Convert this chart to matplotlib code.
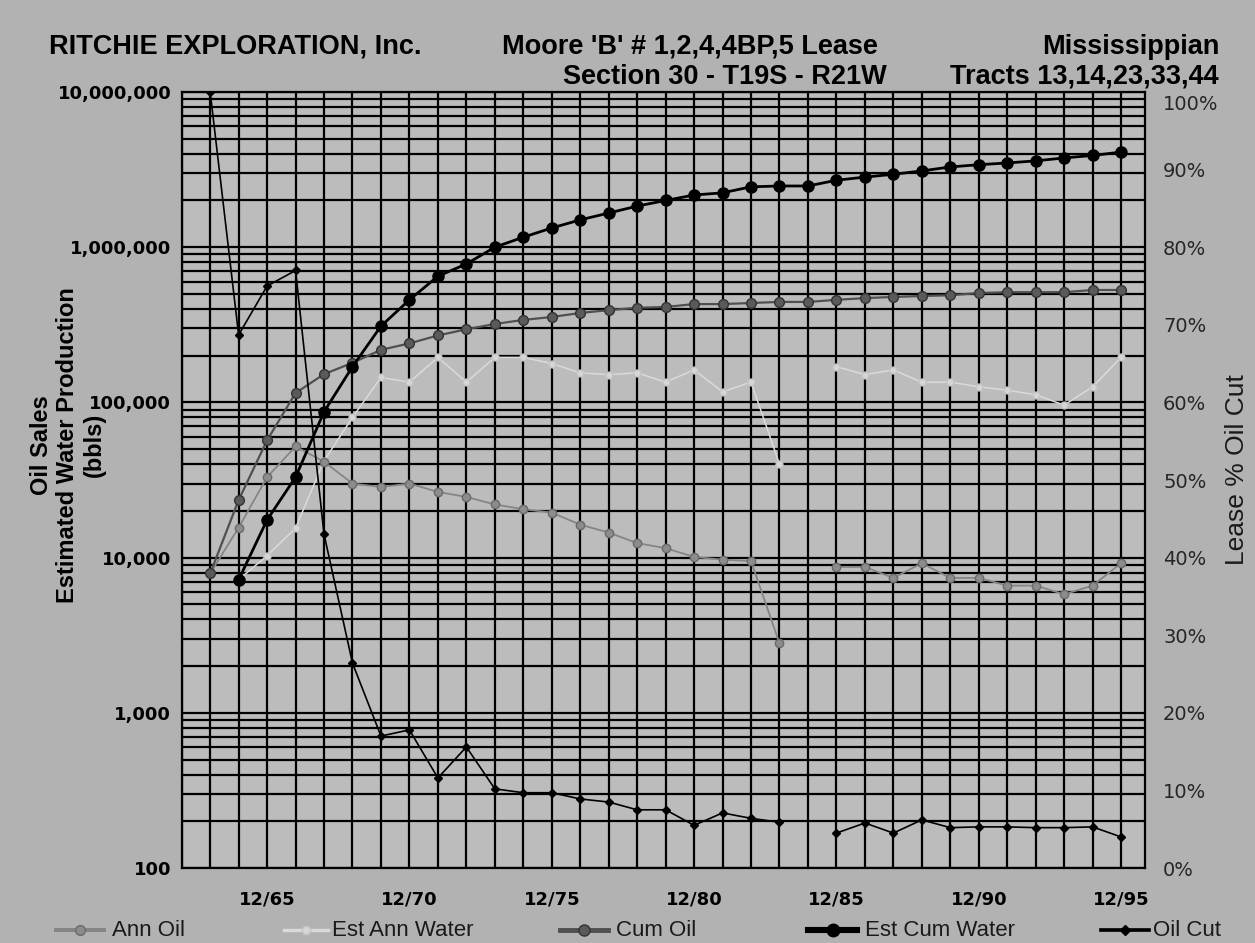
import numpy as np
import matplotlib
matplotlib.use('Agg')
import matplotlib.pyplot as plt
from matplotlib import font_manager
from matplotlib.lines import Line2D
from matplotlib.transforms import ScaledTranslation
from matplotlib.ticker import FixedLocator, NullFormatter

nan = np.nan

# ---------------- data (year-end periods 12/63 .. 12/95) ----------------
periods = ['12/%02d' % y for y in range(63, 96)]

ann_oil = [7900, 15600, 33000, 52000, 41500, 30000, 28500, 30000, 26500, 24600,
           22000, 20500, 19500, 16300, 14500, 12400, 11500, 10100, 9700, 9500,
           2800, nan, 8700, 8700, 7400, 9200, 7400, 7400, 6600, 6600,
           5800, 6600, 9200]

est_ann_water = [nan, 7200, 10300, 15500, 42000, 80000, 145000, 135000, 195000, 135000,
                 195000, 195000, 178000, 155000, 151000, 155000, 135000, 162000, 117000, 135000,
                 40000, nan, 170000, 151000, 162000, 135000, 135000, 126000, 120000, 112000,
                 96000, 126000, 195000]

cum_oil = [7900, 23500, 57000, 115000, 152000, 180000, 218000, 240000, 270000, 296000,
           320000, 340000, 355000, 377000, 393000, 407000, 412000, 430000, 430000, 437000,
           444000, 444000, 458000, 470000, 478000, 485000, 490000, 507000, 513000, 513000,
           513000, 530000, 530000]

est_cum_water = [nan, 7200, 17500, 33000, 87000, 170000, 310000, 458000, 650000, 780000,
                 1000000, 1160000, 1330000, 1500000, 1660000, 1840000, 2000000, 2170000, 2240000, 2450000,
                 2480000, 2480000, 2700000, 2830000, 2950000, 3100000, 3290000, 3400000, 3490000, 3600000,
                 3760000, 3900000, 4100000]

oil_cut = [100, 68.7, 75, 77, 43, 26.4, 17, 17.8, 11.6, 15.6,
           10.2, 9.7, 9.7, 8.9, 8.5, 7.5, 7.5, 5.5, 7.1, 6.4,
           5.9, nan, 4.5, 5.8, 4.5, 6.2, 5.2, 5.3, 5.3, 5.2,
           5.2, 5.3, 4.0]

x_labels = ['12/65', '12/70', '12/75', '12/80', '12/85', '12/90', '12/95']
left_ticks = [100, 1000, 10000, 100000, 1000000, 10000000]
left_labels = ['100', '1,000', '10,000', '100,000', '1,000,000', '10,000,000']
right_ticks = list(range(0, 101, 10))
right_labels = ['%d%%' % v for v in right_ticks]

series_names = ['Ann Oil', 'Est Ann Water', 'Cum Oil', 'Est Cum Water', 'Oil Cut']
ylabel_lines = ['Oil Sales', 'Estimated Water Production', '(bbls)']

# ---------------- fonts ----------------
names = {f.name for f in font_manager.fontManager.ttflist}
HAS_NARROW = 'Liberation Sans Narrow' in names
NARROW = 'Liberation Sans Narrow' if HAS_NARROW else 'Liberation Sans'
TITLE_SIZE = 24 if HAS_NARROW else 19.5
YLAB_SIZE = 20 if HAS_NARROW else 17

W, H = 1255, 943
def fx(px):
    return px / W
def fy(py):
    return 1 - py / H

fig = plt.figure(figsize=(12.55, 9.43), dpi=100, facecolor='#b2b2b2')
ax = fig.add_axes([fx(181.7), fy(868), fx(1145) - fx(181.7), fy(92) - fy(868)])
ax.set_facecolor('#bcbcbc')

x = np.arange(1, len(periods) + 1)

styles = {
    'Ann Oil': dict(color='#858585', lw=1.3, marker='o', ms=6, mfc='#8c8c8c', mec='#6a6a6a'),
    'Est Ann Water': dict(color='#dadada', lw=1.1, marker='o', ms=5, mfc='#d6d6d6', mec='#c4c4c4'),
    'Cum Oil': dict(color='#505050', lw=1.6, marker='o', ms=7, mfc='#5a5a5a', mec='#333333'),
    'Est Cum Water': dict(color='black', lw=2.0, marker='o', ms=8, mfc='black', mec='black'),
    'Oil Cut': dict(color='black', lw=1.2, marker='D', ms=4.5, mfc='black', mec='black'),
}

ax.plot(x, ann_oil, zorder=4, **styles['Ann Oil'])
ax.plot(x, est_ann_water, zorder=3, **styles['Est Ann Water'])
ax.plot(x, cum_oil, zorder=5, **styles['Cum Oil'])
ax.plot(x, est_cum_water, zorder=6, **styles['Est Cum Water'])

ax.set_yscale('log')
ax.set_ylim(100, 1e7)
ax.set_xlim(0, 33.84)

# grid
label_pos = [periods.index(l) + 1 for l in x_labels]
ax.xaxis.set_major_locator(FixedLocator(label_pos))
ax.set_xticklabels(x_labels)
ax.xaxis.set_minor_locator(FixedLocator(list(range(0, 34))))
ax.yaxis.set_major_locator(FixedLocator(left_ticks))
ax.set_yticklabels(left_labels)
minors = [m * 10 ** e for e in range(2, 7) for m in range(2, 10)]
ax.yaxis.set_minor_locator(FixedLocator(minors))
ax.yaxis.set_minor_formatter(NullFormatter())
ax.set_axisbelow(True)
ax.grid(which='both', axis='both', color='black', lw=1.6)

ax.tick_params(axis='both', which='both', length=0)
ax.tick_params(axis='y', pad=7.5)
ax.tick_params(axis='x', pad=16)
for t in ax.get_yticklabels():
    t.set_fontfamily('DejaVu Sans'); t.set_fontweight('bold'); t.set_fontsize(13)
for t in ax.get_xticklabels():
    t.set_fontfamily('DejaVu Sans'); t.set_fontweight('bold'); t.set_fontsize(13)
for s in ax.spines.values():
    s.set_color('black'); s.set_linewidth(1.6)

# oil cut on right axis
ax2 = ax.twinx()
ax2.set_ylim(0, 100)
ax2.plot(x, oil_cut, zorder=7, **styles['Oil Cut'])
ax2.set_yticks(right_ticks)
ax2.set_yticklabels(right_labels)
ax2.tick_params(axis='y', length=0, pad=13, labelsize=14, labelcolor='#262626')
rlabels = ax2.get_yticklabels()
for t in rlabels:
    t.set_fontfamily('DejaVu Sans')
# top label sits a little below the top edge, as in the reference
rlabels[-1].set_transform(rlabels[-1].get_transform() +
                          ScaledTranslation(0, -11 / 100, fig.dpi_scale_trans))
for s in ax2.spines.values():
    s.set_visible(False)

# titles
tkw = dict(fontfamily=NARROW, fontweight='bold', fontsize=TITLE_SIZE, color='black')
fig.text(fx(49), fy(54), 'RITCHIE EXPLORATION, Inc.', ha='left', va='baseline', **tkw)
fig.text(fx(502), fy(54), "Moore 'B' # 1,2,4,4BP,5 Lease", ha='left', va='baseline', **tkw)
fig.text(fx(1219), fy(54), 'Mississippian', ha='right', va='baseline', **tkw)
fig.text(fx(563), fy(84), 'Section 30 - T19S - R21W', ha='left', va='baseline', **tkw)
fig.text(fx(1219), fy(84), 'Tracts 13,14,23,33,44', ha='right', va='baseline', **tkw)

# left axis title: three centred lines, drawn one by one
for line, xc in zip(ylabel_lines, [42, 68, 94]):
    fig.text(fx(xc), fy(445), line, rotation=90, ha='center', va='center',
             fontfamily=NARROW, fontweight='bold', fontsize=YLAB_SIZE)
fig.text(fx(1237), fy(470), 'Lease % Oil Cut', rotation=90, ha='center', va='center',
         fontfamily='Liberation Sans', fontsize=19, color='#1a1a1a')

# legend (manual, bottom row)
leg = [(56, 104, 112), (284, 328, 332), (560, 608, 616), (808, 857, 865), (1101, 1149, 1153)]
ly = 930
for name, (x1, x2, xt) in zip(series_names, leg):
    st = styles[name]
    lw = st['lw'] * 2.2
    fig.add_artist(Line2D([fx(x1), fx((x1 + x2) / 2), fx(x2)], [fy(ly)] * 3,
                          transform=fig.transFigure, color=st['color'], lw=lw,
                          marker=st['marker'], ms=st['ms'] + 1, mfc=st['mfc'], mec=st['mec'],
                          markevery=[1]))
    fig.text(fx(xt), fy(ly), name, ha='left', va='center', fontfamily='Liberation Sans',
             fontsize=16, color='#1a1a1a')

fig.savefig('out.png', dpi=100, facecolor=fig.get_facecolor())
